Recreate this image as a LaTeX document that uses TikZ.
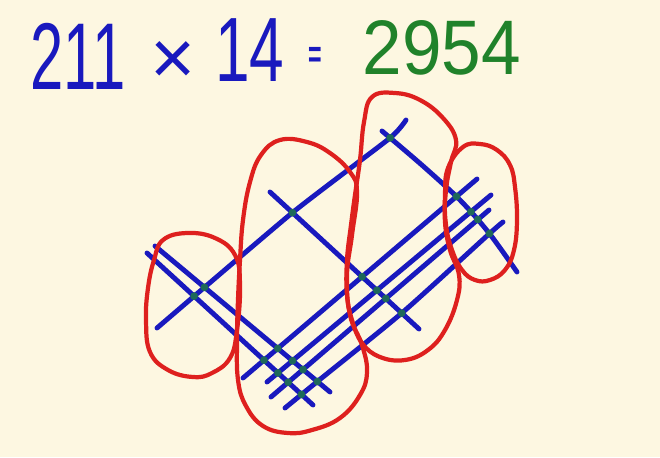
\documentclass[tikz,border=0pt]{standalone}
\usepackage{fontspec}
\setmainfont{Liberation Sans}
\usetikzlibrary{intersections}
\definecolor{bgcol}{RGB}{253,247,225}
\definecolor{inkblue}{RGB}{25,25,190}
\definecolor{inkred}{RGB}{222,32,30}
\definecolor{inkgreen}{RGB}{32,130,42}
\definecolor{dotgreen}{RGB}{30,105,90}
\tikzset{
  blueline/.style={draw=inkblue, line width=2.8pt, line cap=round},
  redloop/.style={draw=inkred, line width=2.4pt, line join=round},
  bluetext/.style={text=inkblue, inner sep=0pt, font=\fontsize{49}{50}\selectfont},
  greentext/.style={text=inkgreen, inner sep=0pt, font=\fontsize{44}{45}\selectfont},
  crossdot/.style={fill=dotgreen}
}
\begin{document}
\begin{tikzpicture}[x=0.02cm,y=-0.02cm]
\fill[bgcol] (0,0) rectangle (660,457);
\useasboundingbox (0,0) rectangle (660,457);

% equation
\node[bluetext, font=\fontsize{54}{55}\selectfont, xscale=0.63] (n211) at (78,56) {211};
\node[bluetext, font=\fontsize{44}{45}\selectfont] (times) at (173,63) {×};
\node[bluetext, font=\fontsize{52}{53}\selectfont, xscale=0.68] (n14) at (250,50) {14};
\node[bluetext, font=\bfseries\fontsize{22}{23}\selectfont, xscale=0.6] (eq) at (315,57) {=};
\node[greentext, xscale=0.92] (res) at (442,48) {2954};

% end points of the lines
\coordinate (L1a-s) at (155,246); \coordinate (L1a-e) at (330,392);
\coordinate (L1b-s) at (147,253); \coordinate (L1b-e) at (313,405);
\coordinate (L2-s)  at (270,192); \coordinate (L2-e)  at (419,329);
\coordinate (L3-s)  at (382,131); \coordinate (L3-e)  at (517,272);
\coordinate (U1-s)  at (157,328); \coordinate (U1-e)  at (406,120);
\coordinate (U2-s)  at (243,378); \coordinate (U2-e)  at (477,179);
\coordinate (U3-s)  at (267,382); \coordinate (U3-e)  at (491,195);
\coordinate (U4-s)  at (271,397); \coordinate (U4-e)  at (489,210);
\coordinate (U5-s)  at (285,408); \coordinate (U5-e)  at (503,222);

% digits of 211 (down-right)
\draw[blueline, name path=L1a] (L1a-s) -- (L1a-e);
\draw[blueline, name path=L1b] (L1b-s) -- (L1b-e);
\draw[blueline, name path=L2] (L2-s) -- (L2-e);
\draw[blueline, name path=L3] plot[smooth, tension=0.5] coordinates {(L3-s) (423,166) (460,200) (489,233) (L3-e)};
% digits of 14 (up-right)
\draw[blueline, name path=U1] plot[smooth, tension=0.3] coordinates {(U1-s) (292,213) (390,138) (U1-e)};
\draw[blueline, name path=U2] (U2-s) -- (U2-e);
\draw[blueline, name path=U3] (U3-s) -- (U3-e);
\draw[blueline, name path=U4] (U4-s) -- (U4-e);
\draw[blueline, name path=U5] plot[smooth, tension=0.4] coordinates {(U5-s) (318,381) (403,312) (489,234) (U5-e)};

% crossing points
\foreach \u in {U1,U2,U3,U4,U5}{
  \foreach \l in {L1a,L1b,L2,L3}{
    \fill[crossdot, name intersections={of/.expanded={\u\space and \l}}] (intersection-1) circle (3.9);
  }
}

% red groupings
\draw[redloop] plot[smooth cycle, tension=0.7] coordinates {
  (163,240) (187,233) (215,238) (235,255) (240,285) (237,330) (230,358)
  (212,373) (193,377) (168,370) (150,352) (146,320) (148,288) (154,260)};
\draw[redloop] plot[smooth cycle, tension=0.7] coordinates {
  (280,140) (307,142) (330,153) (350,172) (357,192) (352,235) (347,275)
  (350,315) (362,345) (367,372) (360,395) (340,418) (312,430) (288,433)
  (263,426) (246,406) (238,380) (237,340) (238,300) (240,260) (243,220)
  (250,182) (261,155)};
\draw[redloop] plot[smooth cycle, tension=0.7] coordinates {
  (372,97) (395,93) (420,100) (443,118) (456,140) (451,162) (446,190)
  (445,222) (450,250) (459,275) (457,300) (445,330) (428,350) (405,360)
  (380,357) (362,343) (352,320) (347,295) (347,260) (351,225) (355,195)
  (360,160) (364,122)};
\draw[redloop] plot[smooth cycle, tension=0.7] coordinates {
  (463,147) (480,144) (497,150) (510,165) (515,187) (517,220) (514,250)
  (505,270) (490,280) (475,280) (462,270) (452,250) (446,225) (445,195)
  (448,168)};
\end{tikzpicture}
\end{document}
